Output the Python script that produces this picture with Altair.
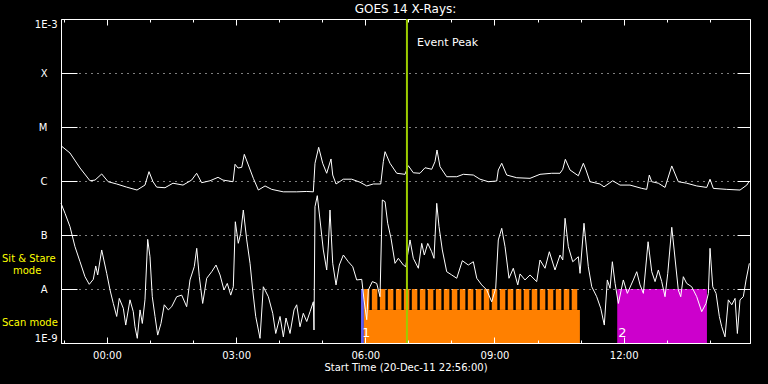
import math
import altair as alt
import pandas as pd

START = pd.Timestamp("2011-12-20 22:56:00")

# ---------------- data ----------------
# minutes after the start time (20-Dec-11 22:56:00)
long_min = [0, 12.5, 26.5, 40.4, 47.4, 56.7, 65.7, 77.6, 91.5, 105.9,
            117, 122.6, 128.2, 133.3, 144.9, 156, 170, 182, 189, 196,
            207.6, 218.8, 225.7, 239.7, 242.5, 246.6, 251.8, 255.4, 261, 268,
            275, 284.3, 293.6, 309.7, 328.4, 342.4, 351.6, 353.9, 359, 364.6,
            370.2, 376.2, 378.6, 383.2, 393.4, 405, 416.6, 426, 435.2, 445.5,
            449.1, 451.5, 458.4, 467.8, 479.3, 483.9, 490.9, 500.2, 507.2, 516.5,
            521.1, 523.9, 528.1, 537.4, 551.4, 560.6, 574.5, 583.8, 595.4, 607.1,
            609.3, 614.1, 621, 635, 653.5, 667.4, 683.7, 695.3, 699.1, 702.7,
            709.2, 720.8, 727.8, 731.5, 737.1, 751, 756.6, 768.7, 778.9, 792.8,
            809.2, 816.1, 819.7, 823.1, 832.3, 841.6, 851, 860.1, 871.8, 885.8,
            899.7, 904.3, 908.9, 927.6, 946.1, 955.5, 959.1]
# long channel flux, in units of 1e-6 W/m^2 (C1)
long_flux_c = [4.5, 3.3, 1.74, 1.01, 1.04, 1.35, 0.97, 0.88, 0.77, 0.68,
               0.84, 1.49, 0.97, 0.77, 0.75, 0.91, 0.84, 1.04, 1.39, 0.93,
               1.01, 1.17, 1.04, 0.97, 2.04, 1.74, 1.79, 3.12, 1.98, 1.12,
               0.68, 0.81, 0.70, 0.63, 0.63, 0.64, 0.63, 2.13, 4.21, 2.13,
               1.39, 2.56, 1.29, 0.88, 1.08, 1.08, 0.95, 0.81, 0.88, 0.88,
               2.28, 3.49, 2.13, 1.39, 1.33, 1.92, 1.42, 1.39, 1.76, 1.65,
               2.28, 3.75, 1.84, 1.20, 1.20, 1.33, 1.29, 1.08, 0.97, 1.0,
               1.60, 2.13, 1.29, 1.15, 1.12, 1.33, 1.39, 1.39, 1.65, 2.52,
               1.60, 1.25, 2.13, 1.60, 0.97, 0.88, 0.78, 1.01, 0.84, 0.84,
               0.73, 0.70, 1.29, 0.97, 0.91, 0.76, 1.90, 0.97, 0.91, 0.81,
               0.76, 1.08, 0.73, 0.70, 0.68, 0.84, 1.0]

short_min = [0, 5.6, 12.5, 19.5, 26.5, 33.4, 39.4, 45, 48.4, 51.1,
             56.7, 63.7, 68.3, 72.9, 77.6, 81.2, 86.8, 90.2, 96.1, 100.7,
             103.1, 106.3, 110.1, 113.3, 117, 120.8, 124, 127.2, 131, 134.7,
             139.3, 143.9, 149.5, 154.2, 161.2, 168.2, 175.1, 179.7, 185.7, 189.1,
             192.7, 197.4, 203, 210, 216, 221.6, 227.1, 231.7, 236.5, 240.1,
             242.9, 247, 250.4, 254, 258.8, 263.4, 267.1, 271.3, 277.3, 281.9,
             288.9, 295, 299.2, 305.2, 309.8, 313.5, 319.1, 324.7, 328.4, 333,
             337.6, 342.4, 347, 351.6, 352.5, 353.9, 357.1, 360.9, 365.5, 370.2,
             372.5, 374.8, 378.6, 383.2, 387.8, 393.4, 400.3, 406.5, 412, 419,
             422.2, 426, 428.2, 433.8, 439.9, 444.5, 447.7, 451.5, 455.2, 459.8,
             465.4, 470, 477, 480.3, 486.3, 490.9, 497.9, 502.6, 506.2, 511,
             516.5, 519.7, 523.5, 526.7, 531.3, 537.4, 544.4, 551.4, 559.2, 567.5,
             574.5, 579.3, 586.2, 593.2, 600.1, 605.7, 609.3, 614.1, 618.7, 624.2,
             630.2, 636.4, 639.6, 646.5, 653.5, 662.8, 667.4, 674.4, 680.4, 688.3,
             695.3, 699.1, 702.3, 706.9, 713, 720.8, 723.2, 728.7, 734.7, 739.5,
             746.4, 752, 757, 761.2, 765, 768.2, 772, 776.6, 783.5, 789.1,
             797.4, 802.2, 806.8, 811.4, 818, 823.1, 827.7, 832.3, 837, 841.6,
             845.4, 851, 855.5, 860.1, 863.5, 867.1, 871.8, 878.8, 885.8, 892.7,
             898.7, 902, 904.3, 908.1, 912.7, 917.3, 920.6, 925.2, 929.8, 934.6,
             939.2, 942.4, 946.1, 950.7, 954.5, 959.1]
# short channel flux, in units of 1e-8 W/m^2 (A1)
short_flux_a = [38.6, 25.2, 14.3, 6.07, 3.2, 1.69, 1.22, 1.51, 2.67, 1.82,
                5.28, 1.95, 0.96, 0.54, 0.31, 0.67, 0.44, 0.215, 0.63, 0.38,
                0.20, 0.122, 0.41, 0.23, 0.63, 8.3, 3.96, 0.72, 0.31, 0.14,
                0.23, 0.51, 0.41, 0.47, 0.72, 0.77, 0.47, 1.47, 2.59, 5.67,
                1.69, 0.54, 1.58, 2.09, 2.78, 1.82, 0.96, 1.27, 0.77, 1.10,
                17.6, 7.02, 10.7, 29, 8.1, 2.99, 0.96, 0.31, 0.122, 1.10,
                0.72, 0.355, 0.15, 0.31, 0.13, 0.29, 0.15, 0.41, 0.51, 0.20,
                0.355, 0.25, 0.38, 0.58, 0.174, 33.4, 53.5, 18.9, 5.28, 2.25,
                6.52, 29, 2.99, 1.19, 2.78, 4.26, 3.2, 2.59, 1.47, 1.51,
                0.63, 0.27, 0.96, 1.37, 1.27, 0.72, 44.5, 41.4, 16.5, 8.7,
                2.99, 3.7, 2.78, 2.59, 8.1, 3.7, 2.42, 7.0, 4.26, 7.0,
                4.9, 3.7, 38.6, 14.3, 5.28, 2.09, 1.82, 1.58, 3.34, 2.78,
                3.2, 1.58, 1.19, 0.96, 0.58, 1.03, 8.1, 13.3, 6.07, 1.58,
                2.42, 1.19, 1.9, 1.47, 1.82, 1.37, 3.44, 2.42, 4.9, 2.25,
                4.26, 3.44, 20.4, 6.07, 3.2, 3.96, 1.95, 16.5, 2.59, 1.10,
                0.72, 0.44, 0.215, 1.47, 1.03, 3.2, 1.27, 0.54, 1.47, 0.83,
                1.47, 2.09, 1.19, 0.83, 7.5, 2.09, 1.37, 2.25, 1.37, 0.72,
                1.95, 13.9, 3.75, 0.96, 0.72, 1.69, 1.27, 1.10, 0.72, 0.38,
                0.54, 0.83, 5.67, 1.10, 0.83, 0.31, 0.20, 0.13, 0.63, 0.51,
                0.67, 0.15, 0.63, 0.72, 1.47, 2.99]

event_peak_min = [482.0]          # 06:58
event_label = ["Event Peak"]

region_labels = ["1", "2"]
region_start_min = [418.0, 775.0]

# observing-mode bands (minutes after start)
blue_start_min, blue_end_min = 418.0, 422.0
scan_start_min, scan_end_min = 422.0, 723.0
magenta_start_min, magenta_end_min = 775.0, 900.0
stare_start_min = [422.0, 433.1, 444.3, 455.4, 466.6, 477.7, 488.8, 500.0, 511.1,
                   522.3, 533.4, 544.5, 555.7, 566.8, 578.0, 589.1, 600.2, 611.4,
                   622.5, 633.7, 644.8, 655.9, 667.1, 678.2, 689.4, 700.5, 711.6]
stare_end_min = [429.7, 440.8, 452.0, 463.1, 474.3, 485.4, 496.5, 507.7, 518.8,
                 530.0, 541.1, 552.2, 563.4, 574.5, 585.7, 596.8, 607.9, 619.1,
                 630.2, 641.4, 652.5, 663.6, 674.8, 685.9, 697.1, 708.2, 719.3]

mode_labels_a = ["Sit & Stare", "Scan mode"]
mode_label_flux_a = [3.6e-8, 2.3e-9]
mode_labels_b = ["mode"]
mode_label_flux_b = [2.15e-8]

class_letters = ["A", "B", "C", "M", "X"]
class_values = [1e-8, 1e-7, 1e-6, 1e-5, 1e-4]
decades = [1e-9, 1e-8, 1e-7, 1e-6, 1e-5, 1e-4, 1e-3]

# ---------------- helpers ----------------
def ts(m):
    return (START + pd.to_timedelta(m, unit="min")).strftime("%Y-%m-%dT%H:%M:%S")


def dt(d, h, m=0):
    return alt.DateTime(year=2011, month=12, date=d, hours=h, minutes=m)


curve_df = pd.concat([
    pd.DataFrame({"t": [ts(m) for m in long_min],
                  "flux": [v * 1e-6 for v in long_flux_c], "series": "long"}),
    pd.DataFrame({"t": [ts(m) for m in short_min],
                  "flux": [v * 1e-8 for v in short_flux_a], "series": "short"}),
])

BAND_LO, BAND_MID, BAND_HI = 1e-9, 4.1e-9, 1e-8
rect_rows = [
    (blue_start_min, blue_end_min, BAND_LO, BAND_HI, "#5c5cf0"),
    (scan_start_min, scan_end_min, BAND_LO, BAND_MID, "#ff8000"),
    (magenta_start_min, magenta_end_min, BAND_LO, BAND_HI, "#cc00cc"),
]
for s, e in zip(stare_start_min, stare_end_min):
    rect_rows.append((s, e, BAND_MID, BAND_HI, "#ff8000"))
rect_df = pd.DataFrame({
    "t0": [ts(r[0]) for r in rect_rows],
    "t1": [ts(r[1]) for r in rect_rows],
    "lo": [r[2] for r in rect_rows],
    "hi": [r[3] for r in rect_rows],
    "color": [r[4] for r in rect_rows],
})

event_df = pd.DataFrame({"t": [ts(m) for m in event_peak_min],
                         "label": event_label, "flux": [3.6e-4]})
region_df = pd.DataFrame({"t": [ts(m) for m in region_start_min],
                          "label": region_labels, "flux": [1e-9, 1e-9]})
modes_a_df = pd.DataFrame({"label": mode_labels_a, "flux": mode_label_flux_a})
modes_b_df = pd.DataFrame({"label": mode_labels_b, "flux": mode_label_flux_b})

x_scale = alt.Scale(domain=[dt(20, 22, 56), dt(21, 14, 56)], nice=False)
y_scale = alt.Scale(type="log", domain=[1e-9, 1e-3], nice=False, clamp=True)

major_hours = [dt(21, h) for h in (0, 3, 6, 9, 12)]
all_hours = [dt(20, 23)] + [dt(21, h) for h in range(0, 15)]

letter_expr = "''"
for v, lab in zip(class_values, class_letters):
    letter_expr = (f"abs(log(datum.value)/log(10) - ({math.log10(v):.0f})) < 0.1"
                   f" ? '{lab}' : " + letter_expr)
num_expr = "datum.value > 1e-6 ? '1E-3' : '1E-9'"

FONT = "DejaVu Sans"

# ---------------- layers ----------------
rects = alt.Chart(rect_df).mark_rect(strokeWidth=0).encode(
    x=alt.X("t0:T", scale=x_scale,
            axis=alt.Axis(orient="top", values=major_hours, labels=False, domain=False,
                          grid=False, ticks=True, tickSize=6, offset=-6, title=None, zindex=1)),
    x2="t1:T",
    y=alt.Y("lo:Q", scale=y_scale,
            axis=alt.Axis(orient="right", values=decades, labels=False, domain=False,
                          grid=False, ticks=True, tickSize=13, offset=-13, title=None, zindex=1)),
    y2="hi:Q",
    color=alt.Color("color:N", scale=None),
)

curves = alt.Chart(curve_df).mark_line(color="white", strokeWidth=1).encode(
    x=alt.X("t:T", scale=x_scale,
            axis=alt.Axis(orient="bottom", values=major_hours, format="%H:%M",
                          domain=False, grid=False, ticks=True, tickSize=6, offset=-6,
                          labelPadding=7, title="Start Time (20-Dec-11 22:56:00)",
                          titlePadding=2, zindex=1)),
    y=alt.Y("flux:Q", scale=y_scale,
            axis=alt.Axis(orient="left", values=class_values, labelExpr=letter_expr,
                          domain=False, grid=True, gridDash=[1, 5], gridColor="white",
                          ticks=True, tickSize=16, offset=-16, labelPadding=14,
                          title=None, zindex=1)),
    detail="series:N",
)

event = alt.Chart(event_df).mark_rule(color="#9ccc00", strokeWidth=2).encode(
    x=alt.X("t:T", scale=x_scale,
            axis=alt.Axis(orient="bottom", values=all_hours, labels=False, domain=False,
                          grid=False, ticks=True, tickSize=3, offset=-3, title=None, zindex=1)),
)

event_text = alt.Chart(event_df).mark_text(
    align="left", baseline="middle", dx=10, color="white", font=FONT, fontSize=11
).encode(
    x=alt.X("t:T", scale=x_scale,
            axis=alt.Axis(orient="top", values=all_hours, labels=False, domain=False,
                          grid=False, ticks=True, tickSize=3, offset=-3, title=None, zindex=1)),
    y=alt.Y("flux:Q", scale=y_scale, axis=None),
    text="label:N",
)

frame = alt.Chart(event_df).mark_rule(opacity=0).encode(
    x=alt.X("t:T", scale=x_scale,
            axis=alt.Axis(orient="bottom", labels=False, ticks=False, grid=False,
                          domain=True, domainColor="white", title=None, zindex=2)),
)

region_text = alt.Chart(region_df).mark_text(
    align="left", baseline="bottom", dx=1, dy=-3, color="white", font=FONT, fontSize=13
).encode(
    x=alt.X("t:T", scale=x_scale, axis=None),
    y=alt.Y("flux:Q", scale=y_scale, axis=None),
    text="label:N",
)

modes_a = alt.Chart(modes_a_df).mark_text(
    align="left", baseline="middle", color="#ffff00", font=FONT, fontSize=10
).encode(
    x=alt.value(-59),
    y=alt.Y("flux:Q", scale=y_scale,
            axis=alt.Axis(orient="left", values=[1e-9, 1e-3], labelExpr=num_expr,
                          labelFlush=True, domain=False, grid=False, ticks=True,
                          tickSize=16, offset=-16, labelPadding=4, title=None, zindex=1)),
    text="label:N",
)

modes_b = alt.Chart(modes_b_df).mark_text(
    align="left", baseline="middle", color="#ffff00", font=FONT, fontSize=10
).encode(
    x=alt.value(-48),
    y=alt.Y("flux:Q", scale=y_scale, axis=None),
    text="label:N",
)

chart = alt.layer(
    rects, curves, event, event_text, frame, region_text, modes_a, modes_b
).resolve_axis(
    x="independent", y="independent"
).properties(
    width=689,
    height=324,
    padding={"left": 61, "top": 19, "right": 18, "bottom": 41},
    autosize=alt.AutoSizeParams(type="none"),
    background="black",
    title=alt.Title("GOES 14 X-Rays:", color="white", font=FONT, fontSize=12,
                    fontWeight="normal", anchor="middle", offset=-7,
                    baseline="alphabetic"),
).configure_view(
    stroke="white", strokeWidth=1
).configure_axis(
    labelColor="white", labelFont=FONT, labelFontSize=10,
    tickColor="white", tickWidth=1, domainColor="white",
    titleColor="white", titleFont=FONT, titleFontSize=10, titleFontWeight="normal",
)

chart.save("out.html", embed_options={"renderer": "svg", "actions": False})
